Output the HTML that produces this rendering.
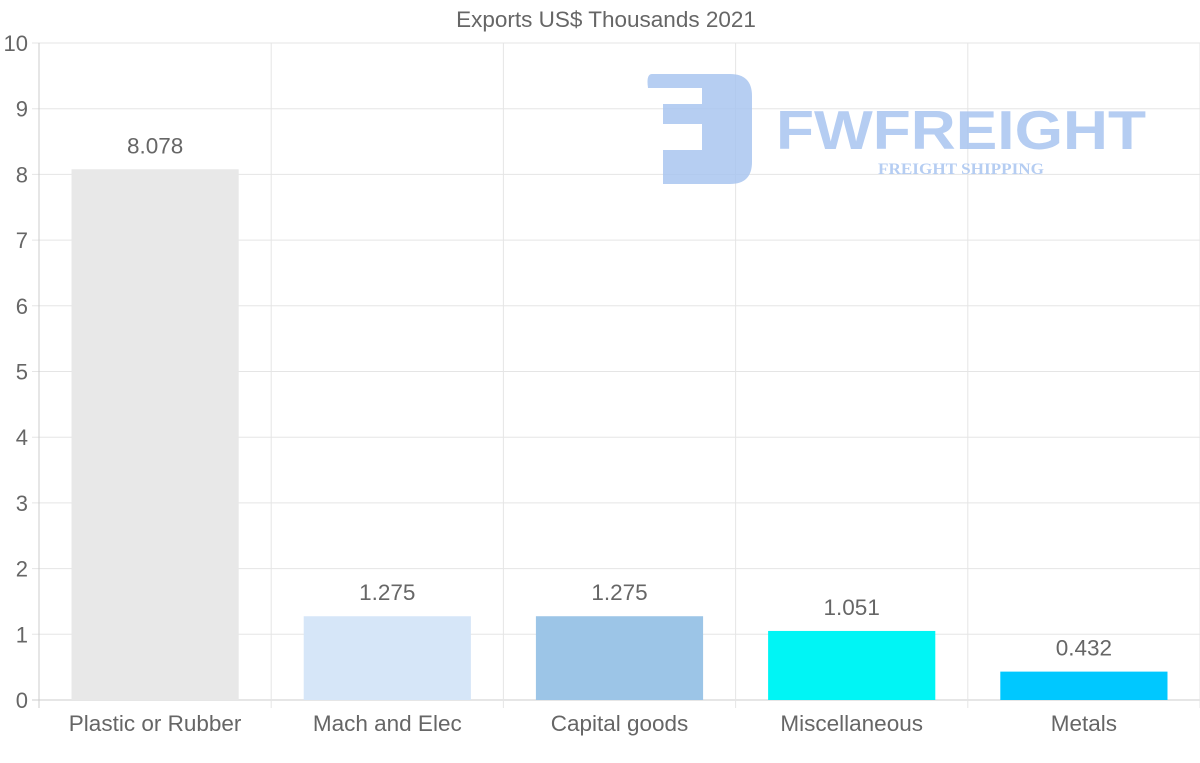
<!DOCTYPE html>
<html><head><meta charset="utf-8"><style>
body{margin:0;background:#fff;}
svg{display:block;font-family:"Liberation Sans",Arial,sans-serif;}
</style></head><body>
<svg id="c" width="1200" height="763">
<g id="wm" opacity="0.85">
<path d="M652 74 H730 Q752 74 752 96 V162 Q752 184 730 184 H663 V150 H702 V124 H663 V104 H702 V88 H648 Q646 74 652 74 Z" fill="#a9c5f0"/>
<text x="776" y="149" font-size="55" font-weight="bold" fill="#a9c5f0" textLength="370" lengthAdjust="spacingAndGlyphs">FWFREIGHT</text>
<text x="878" y="174" font-size="16" font-weight="bold" fill="#a9c5f0" font-family="Liberation Serif,serif" textLength="166" lengthAdjust="spacingAndGlyphs">FREIGHT SHIPPING</text>
</g>
</svg>
<script>
const categories=["Plastic or Rubber","Mach and Elec","Capital goods","Miscellaneous","Metals"];
const values=[8.078,1.275,1.275,1.051,0.432];
const labels=["8.078","1.275","1.275","1.051","0.432"];
const colors=["#e8e8e8","#d6e6f8","#9cc5e7","#00f5f5","#00c8ff"];
const yTicks=[0,1,2,3,4,5,6,7,8,9,10];
const NS="http://www.w3.org/2000/svg";
const svg=document.getElementById('c');
const L=39,R=1200,T=43,B=700,yMax=10;
const y=v=>B-(v/yMax)*(B-T);
const bw=(R-L)/categories.length;
const x=i=>L+i*bw;
function mk(t,a,p){const e=document.createElementNS(NS,t);for(const k in a)e.setAttribute(k,a[k]);(p||svg).insertBefore(e,document.getElementById('wm'));return e;}
const title=mk('text',{x:606,y:27,'font-size':22.5,fill:'#666','text-anchor':'middle'});title.textContent="Exports US$ Thousands 2021";


yTicks.forEach(t=>{
 const g=mk('line',{x1:32,x2:R,y1:y(t),y2:y(t),stroke:t===0?'#ccc':'#e5e5e5'});
 
 
 const tx=mk('text',{x:28,y:y(t)+8,'font-size':22,fill:'#666','text-anchor':'end'});tx.textContent=t;
 
 
});
for(let i=0;i<=categories.length;i++){
 const g=mk('line',{x1:x(i),x2:x(i),y1:T,y2:B+8,stroke:i===0?'#ccc':'#e5e5e5'});
 
 
}
categories.forEach((c,i)=>{
 const w=bw*0.72,bx=x(i)+(bw-w)/2;
 const r=mk('rect',{x:bx,y:y(values[i]),width:w,height:B-y(values[i]),fill:colors[i]});
 
 
 const v=mk('text',{x:x(i)+bw/2,y:y(values[i])-16,'font-size':22.5,fill:'#666','text-anchor':'middle'});v.textContent=labels[i];
 
 
 const l=mk('text',{x:x(i)+bw/2,y:731,'font-size':22.5,fill:'#666','text-anchor':'middle'});l.textContent=c;
 
 
});
</script>
</body></html>
